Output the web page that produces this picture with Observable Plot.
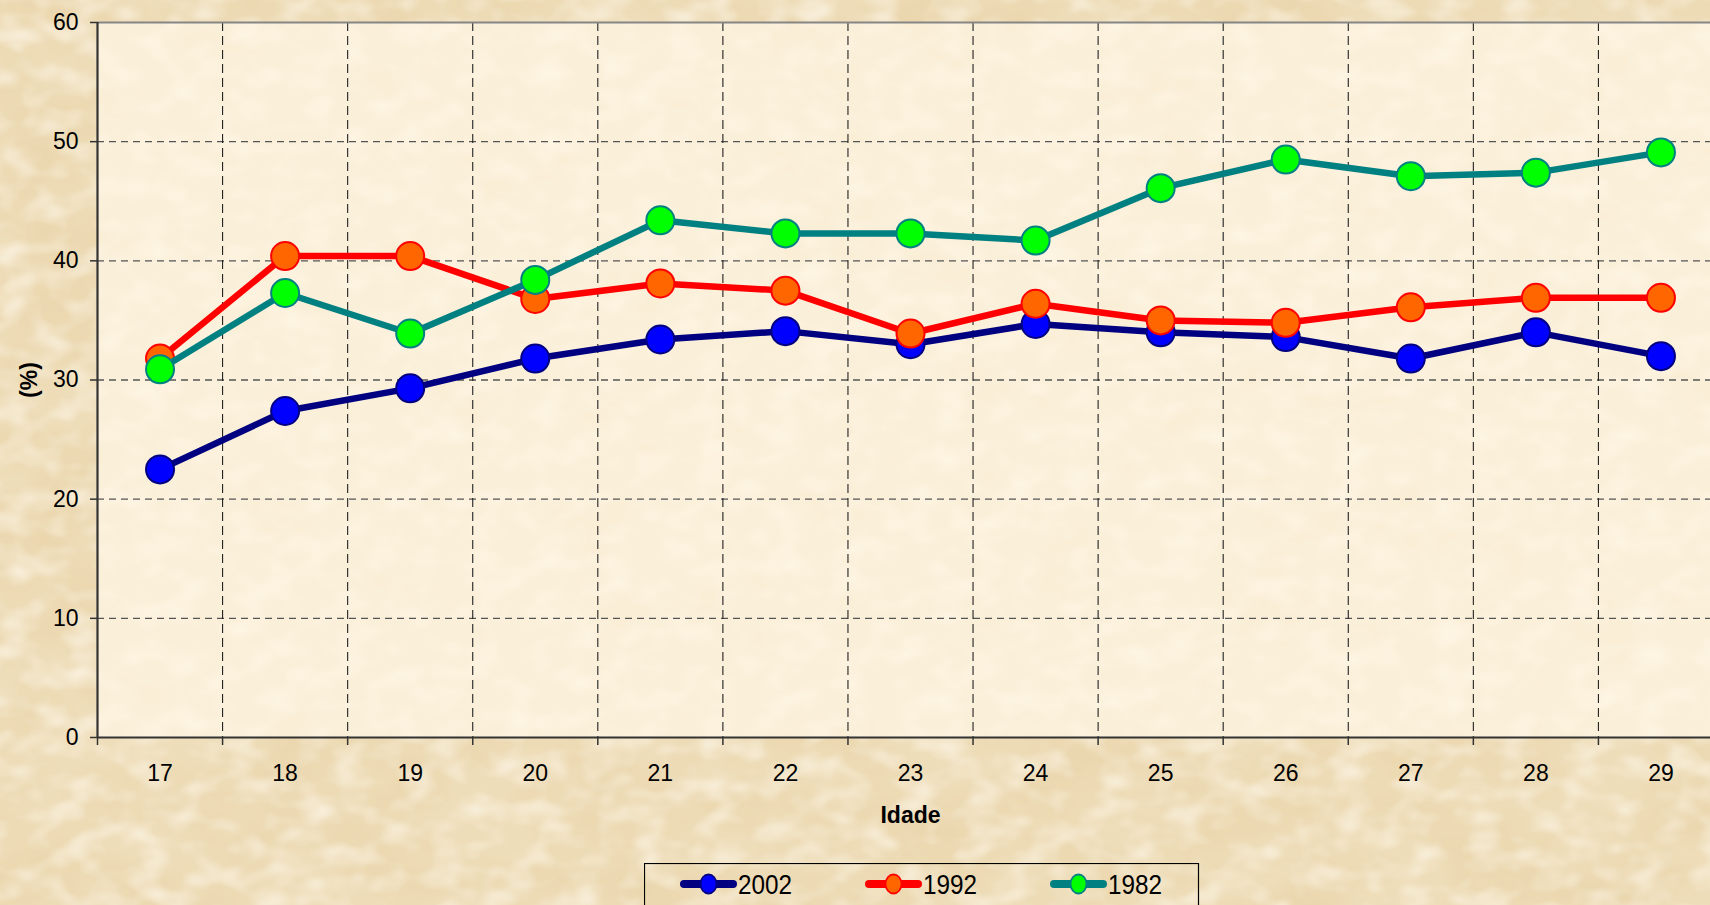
<!DOCTYPE html>
<html>
<head>
<meta charset="utf-8">
<script src="https://cdn.jsdelivr.net/npm/d3@7"></script>
<script src="https://cdn.jsdelivr.net/npm/@observablehq/plot@0.6"></script>
<style>
  html, body { margin: 0; padding: 0; width: 1710px; height: 905px; overflow: hidden; }
  body {
    position: relative;
    background-color: #ECD9B3;
    font-family: Arial, "Liberation Sans", sans-serif;
  }
  #bg { position: absolute; left: 0; top: 0; }
  #chart { position: absolute; left: 0; top: 0; }
  #legend { position: absolute; left: 644px; top: 863px; }
</style>
</head>
<body>
<svg id="bg" width="1710" height="905">
  <filter id="tex" x="0" y="0" width="100%" height="100%">
    <feTurbulence type="fractalNoise" baseFrequency="0.009 0.014" numOctaves="4" seed="7" result="n"/>
    <feColorMatrix in="n" type="matrix" values="0 0 0 0 0.82  0 0 0 0 0.66  0 0 0 0 0.40  1.7 0 0 0 -0.6"/>
  </filter>
  <filter id="tex2" x="0" y="0" width="100%" height="100%">
    <feTurbulence type="fractalNoise" baseFrequency="0.03 0.045" numOctaves="2" seed="2" result="n"/>
    <feColorMatrix in="n" type="matrix" values="0 0 0 0 1  0 0 0 0 0.96  0 0 0 0 0.88  1.3 0 0 0 -0.55"/>
  </filter>
  <rect width="1710" height="905" fill="#EEDDB9"/>
  <rect width="1710" height="905" filter="url(#tex)"/>
  <rect width="1710" height="905" filter="url(#tex2)"/>
</svg>
<div id="chart"></div>
<div id="legend"></div>
<script>
// ---- data ----
const ages = [17, 18, 19, 20, 21, 22, 23, 24, 25, 26, 27, 28, 29];
const v2002 = [22.5, 27.4, 29.3, 31.8, 33.4, 34.1, 33.0, 34.7, 34.0, 33.6, 31.8, 34.0, 32.0];
const v1992 = [31.8, 40.4, 40.4, 36.8, 38.1, 37.5, 33.9, 36.4, 35.0, 34.8, 36.1, 36.9, 36.9];
const v1982 = [30.9, 37.3, 33.9, 38.4, 43.4, 42.3, 42.3, 41.7, 46.1, 48.5, 47.1, 47.4, 49.1];
const yTicks = [0, 10, 20, 30, 40, 50, 60];
const seriesNames = ["2002", "1992", "1982"];
const seriesValues = [v2002, v1992, v1982];
const lineColors = ["#000080", "#FF0000", "#008080"];
const markerFills = ["#0000FF", "#FF6600", "#00FF00"];
const xTitle = "Idade";
const yTitle = "(%)";

// ---- derived ----
const bounds = [ages[0] - 0.5, ...ages.map(a => a + 0.5)];
const innerBounds = bounds.slice(1, -1);
const gridY = yTicks.slice(1, -1);
const FONT = 'Arial, "Liberation Sans", sans-serif';

const seriesMarks = [];
seriesNames.forEach((name, i) => {
  const rows = ages.map((a, j) => ({age: a, value: seriesValues[i][j]}));
  seriesMarks.push(
    Plot.line(rows, {x: "age", y: "value", stroke: lineColors[i], strokeWidth: 6.5, strokeLinejoin: "round"}),
    Plot.dot(rows, {x: "age", y: "value", r: 14, fill: markerFills[i], stroke: lineColors[i], strokeWidth: 2, fillOpacity: 1})
  );
});

const chart = Plot.plot({
  width: 1730,
  height: 850,
  marginLeft: 97,
  marginRight: 7,
  marginTop: 22,
  marginBottom: 113,
  style: {background: "transparent", fontFamily: FONT, fontSize: "23px", color: "#000", overflow: "visible", maxWidth: "none"},
  x: {type: "linear", domain: [bounds[0], bounds[bounds.length - 1]], label: null},
  y: {type: "linear", domain: [yTicks[0], yTicks[yTicks.length - 1]], label: null},
  marks: [
    Plot.frame({fill: "#FFF6E6", fillOpacity: 0.72, stroke: "none"}),
    Plot.ruleY(gridY, {stroke: "#555", strokeWidth: 1.4, strokeDasharray: "7,5"}),
    Plot.ruleX(innerBounds, {stroke: "#222", strokeWidth: 1.1, strokeDasharray: "9,5"}),
    Plot.ruleY([yTicks[yTicks.length - 1]], {stroke: "#868686", strokeWidth: 2.2}),
    Plot.axisY({ticks: yTicks, tickSize: 7, tickPadding: 12, fontSize: 23, label: null, stroke: "#333", strokeWidth: 1.5}),
    Plot.axisX({ticks: bounds, tickSize: 8, tickFormat: () => "", label: null, stroke: "#333", strokeWidth: 1.5}),
    Plot.axisX({ticks: ages, tickSize: 0, tickPadding: 27, fontSize: 23, label: null}),
    Plot.ruleX([bounds[0]], {stroke: "#333", strokeWidth: 2.2}),
    Plot.ruleY([yTicks[0]], {stroke: "#333", strokeWidth: 2.2}),
    ...seriesMarks,
    Plot.text([yTitle], {frameAnchor: "left", dx: -68, rotate: -90, textAnchor: "middle", lineAnchor: "middle", fontWeight: "bold", fontSize: 23, fill: "#000"}),
    Plot.text([xTitle], {frameAnchor: "bottom", dy: 78, textAnchor: "middle", lineAnchor: "middle", fontWeight: "bold", fontSize: 23, fill: "#000"})
  ]
});
document.getElementById("chart").appendChild(chart);

// ---- legend ----
const ns = "http://www.w3.org/2000/svg";
const lg = document.createElementNS(ns, "svg");
lg.setAttribute("width", 560);
lg.setAttribute("height", 42);
const box = document.createElementNS(ns, "rect");
box.setAttribute("x", 0.5); box.setAttribute("y", 0.5);
box.setAttribute("width", 554); box.setAttribute("height", 70);
box.setAttribute("fill", "none"); box.setAttribute("stroke", "#000"); box.setAttribute("stroke-width", 1.2);
lg.appendChild(box);
const itemX = [36, 221, 406];
seriesNames.forEach((name, i) => {
  const x0 = itemX[i];
  const ln = document.createElementNS(ns, "line");
  ln.setAttribute("x1", x0 + 4); ln.setAttribute("x2", x0 + 53);
  ln.setAttribute("y1", 21); ln.setAttribute("y2", 21);
  ln.setAttribute("stroke", lineColors[i]); ln.setAttribute("stroke-width", 8);
  ln.setAttribute("stroke-linecap", "round");
  lg.appendChild(ln);
  const c = document.createElementNS(ns, "ellipse");
  c.setAttribute("cx", x0 + 28.5); c.setAttribute("cy", 21);
  c.setAttribute("rx", 8); c.setAttribute("ry", 9.5);
  c.setAttribute("fill", markerFills[i]); c.setAttribute("stroke", lineColors[i]); c.setAttribute("stroke-width", 1.8);
  lg.appendChild(c);
  const t = document.createElementNS(ns, "text");
  t.setAttribute("x", x0 + 58); t.setAttribute("y", 31);
  t.setAttribute("font-family", FONT); t.setAttribute("font-size", 28);
  t.setAttribute("textLength", 54); t.setAttribute("lengthAdjust", "spacingAndGlyphs");
  t.textContent = name;
  lg.appendChild(t);
});
document.getElementById("legend").appendChild(lg);
</script>
</body>
</html>
